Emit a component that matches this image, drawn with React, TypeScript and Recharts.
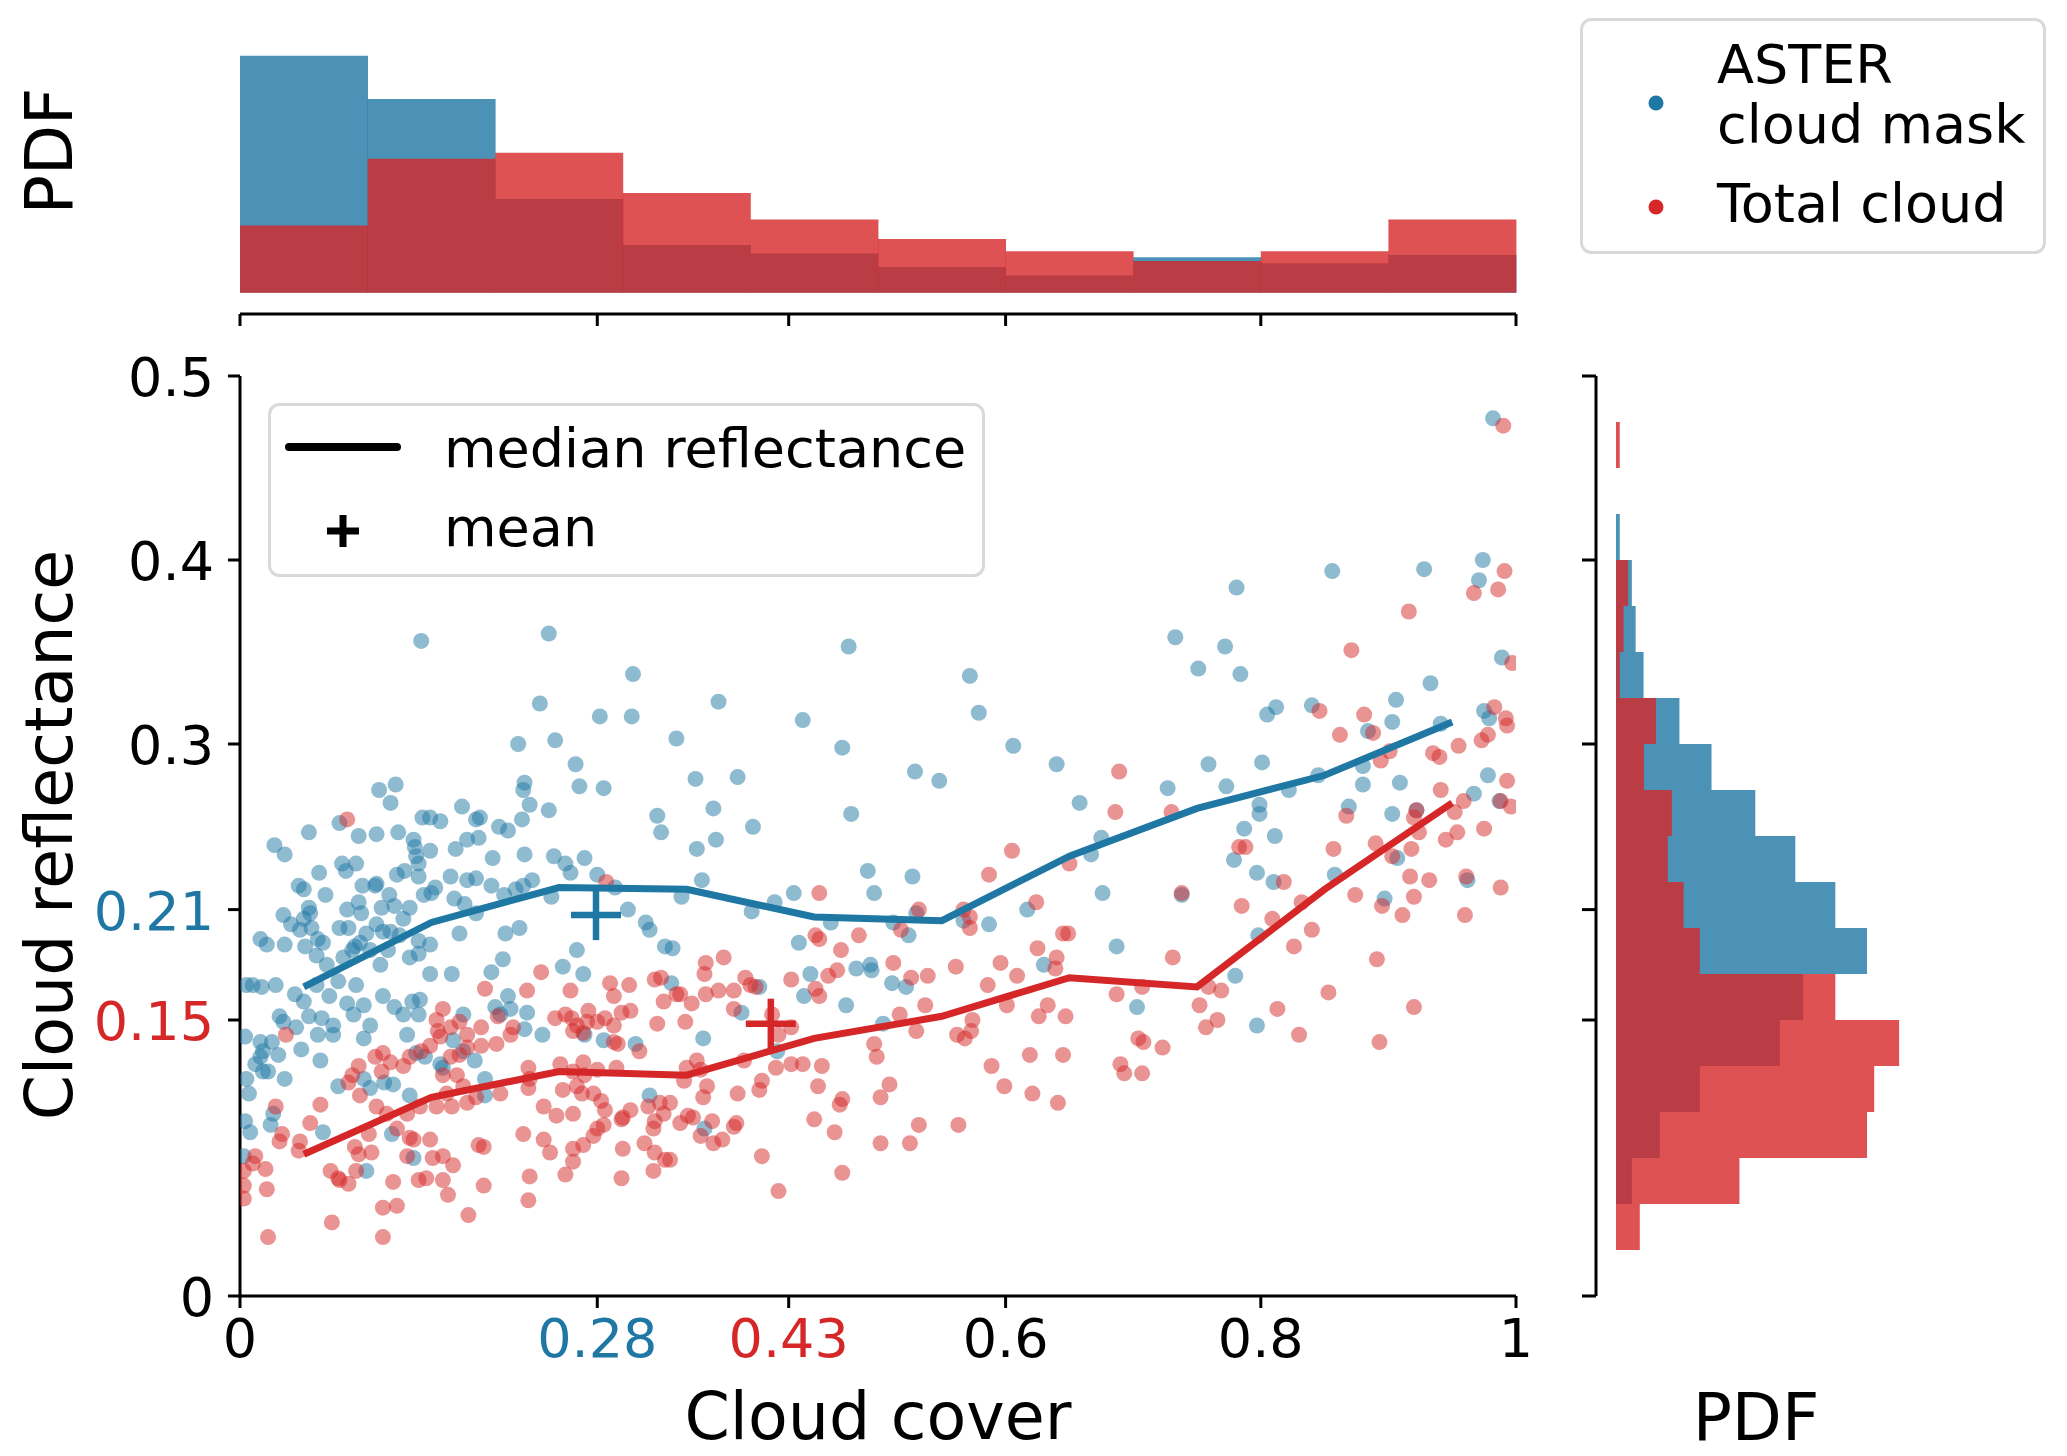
import React from 'react';
import { Bar, BarChart, ComposedChart, Line, Scatter, XAxis, YAxis } from 'recharts';

const BLUE = '#1f77a4';
const RED = '#d62728';
const FONT = '"DejaVu Sans", sans-serif';

// axis ticks (the coloured ones mark the means)
const coverTicks = [0, 0.28, 0.43, 0.6, 0.8, 1];
const reflectanceTicks = [0, 0.15, 0.21, 0.3, 0.4, 0.5];
const tickColors: Record<string, string> = { '0.28': BLUE, '0.43': RED, '0.21': BLUE, '0.15': RED };

// median reflectance per cloud-cover bin
const medianCover = [0.05, 0.15, 0.25, 0.35, 0.45, 0.55, 0.65, 0.75, 0.85, 0.95];
const asterMedian = [0.168, 0.203, 0.222, 0.221, 0.206, 0.204, 0.239, 0.265, 0.283, 0.312];
const totalMedian = [0.077, 0.108, 0.122, 0.12, 0.14, 0.152, 0.173, 0.168, 0.221, 0.268];

// means [cover, reflectance]
const asterMean: [number, number] = [0.279, 0.207];
const totalMean: [number, number] = [0.416, 0.148];

// top histogram: PDF of cloud cover
const coverBins = ['0-0.1', '0.1-0.2', '0.2-0.3', '0.3-0.4', '0.4-0.5', '0.5-0.6', '0.6-0.7', '0.7-0.8', '0.8-0.9', '0.9-1'];
const asterCoverPdf = [3.13, 2.56, 1.24, 0.63, 0.52, 0.34, 0.23, 0.47, 0.39, 0.5];
const totalCoverPdf = [0.89, 1.77, 1.85, 1.32, 0.97, 0.71, 0.55, 0.42, 0.55, 0.97];

// right histogram: PDF of cloud reflectance
const reflBins = [
  '0-0.025', '0.025-0.05', '0.05-0.075', '0.075-0.1', '0.1-0.125',
  '0.125-0.15', '0.15-0.175', '0.175-0.2', '0.2-0.225', '0.225-0.25',
  '0.25-0.275', '0.275-0.3', '0.3-0.325', '0.325-0.35', '0.35-0.375',
  '0.375-0.4', '0.4-0.425', '0.425-0.45', '0.45-0.475', '0.475-0.5',
];
const asterReflPdf = [0, 0, 0.42, 1.16, 2.22, 4.34, 4.96, 6.65, 5.81, 4.75, 3.69, 2.53, 1.68, 0.73, 0.52, 0.42, 0.1, 0, 0, 0];
const totalReflPdf = [0, 0.63, 3.27, 6.65, 6.84, 7.5, 5.81, 2.22, 1.79, 1.37, 1.48, 0.74, 1.06, 0.1, 0.2, 0.32, 0, 0, 0.1, 0];

// scenes: [cloud cover, cloud reflectance]
const asterPoints: [number, number][] = [
  [0.142, 0.356], [0.242, 0.36], [0.477, 0.353], [0.308, 0.338], [0.572, 0.337],
  [0.235, 0.322], [0.282, 0.315], [0.307, 0.315], [0.218, 0.3], [0.247, 0.302], [0.263, 0.289], [0.266, 0.277], [0.285, 0.276], [0.327, 0.261], [0.33, 0.252],
  [0.109, 0.275], [0.122, 0.278], [0.118, 0.268], [0.174, 0.266], [0.078, 0.257], [0.143, 0.26], [0.149, 0.26], [0.157, 0.258], [0.185, 0.259], [0.188, 0.26],
  [0.054, 0.252], [0.093, 0.25], [0.107, 0.251], [0.124, 0.252], [0.027, 0.245], [0.035, 0.24], [0.136, 0.248], [0.137, 0.244], [0.149, 0.242], [0.138, 0.239],
  [0.14, 0.235], [0.169, 0.243], [0.178, 0.248], [0.187, 0.249], [0.203, 0.255], [0.21, 0.253], [0.223, 0.279], [0.222, 0.275], [0.227, 0.267], [0.221, 0.259],
  [0.242, 0.264], [0.198, 0.238], [0.223, 0.24], [0.246, 0.239], [0.255, 0.235], [0.259, 0.23], [0.27, 0.238], [0.28, 0.229], [0.294, 0.222], [0.304, 0.21],
  [0.318, 0.203], [0.321, 0.199], [0.333, 0.19],
  [0.08, 0.235], [0.091, 0.235], [0.083, 0.231], [0.062, 0.23], [0.046, 0.223], [0.05, 0.221], [0.067, 0.218], [0.096, 0.223], [0.106, 0.223], [0.107, 0.224],
  [0.123, 0.229], [0.129, 0.231], [0.14, 0.228], [0.165, 0.228], [0.178, 0.226], [0.185, 0.227], [0.197, 0.223], [0.117, 0.218], [0.121, 0.212], [0.111, 0.211],
  [0.133, 0.211], [0.144, 0.218], [0.15, 0.219], [0.153, 0.222], [0.168, 0.216], [0.176, 0.213], [0.207, 0.218], [0.216, 0.221], [0.222, 0.223], [0.229, 0.226],
  [0.244, 0.217], [0.034, 0.207], [0.04, 0.202], [0.047, 0.199], [0.05, 0.205], [0.054, 0.211], [0.055, 0.208], [0.056, 0.2], [0.061, 0.194], [0.065, 0.192],
  [0.084, 0.21], [0.093, 0.214], [0.095, 0.208], [0.078, 0.2], [0.085, 0.2], [0.099, 0.197], [0.107, 0.202], [0.112, 0.198], [0.118, 0.198], [0.125, 0.196],
  [0.128, 0.205], [0.14, 0.193], [0.149, 0.191], [0.172, 0.197], [0.185, 0.208], [0.208, 0.197], [0.219, 0.2], [0.016, 0.194], [0.021, 0.191], [0.035, 0.191],
  [0.051, 0.19], [0.06, 0.185], [0.068, 0.18], [0.077, 0.171], [0.081, 0.184], [0.088, 0.188], [0.09, 0.19], [0.094, 0.192], [0.102, 0.188], [0.11, 0.18],
  [0.116, 0.188], [0.133, 0.184], [0.14, 0.186], [0.149, 0.175], [0.166, 0.175], [0.197, 0.176], [0.206, 0.183], [0.264, 0.188], [0.269, 0.175], [0.253, 0.179],
  [0.005, 0.169], [0.01, 0.169], [0.017, 0.168], [0.028, 0.169], [0.043, 0.164], [0.05, 0.16], [0.06, 0.169], [0.07, 0.163], [0.091, 0.169], [0.084, 0.159],
  [0.089, 0.153], [0.097, 0.158], [0.112, 0.163], [0.121, 0.157], [0.128, 0.153], [0.135, 0.16], [0.141, 0.161], [0.14, 0.153], [0.175, 0.153], [0.2, 0.157],
  [0.21, 0.163], [0.204, 0.153], [0.212, 0.156], [0.225, 0.154], [0.237, 0.142], [0.27, 0.142], [0.285, 0.139], [0.31, 0.137],
  [0.004, 0.141], [0.016, 0.138], [0.018, 0.133], [0.025, 0.138], [0.031, 0.152], [0.034, 0.149], [0.044, 0.146], [0.048, 0.134], [0.054, 0.152], [0.061, 0.142],
  [0.064, 0.151], [0.073, 0.147], [0.073, 0.142], [0.102, 0.147], [0.097, 0.14], [0.131, 0.142], [0.138, 0.132], [0.145, 0.13], [0.157, 0.126], [0.159, 0.124],
  [0.167, 0.139], [0.175, 0.133], [0.184, 0.128], [0.223, 0.145], [0.016, 0.13], [0.012, 0.126], [0.018, 0.122], [0.03, 0.131], [0.022, 0.122], [0.005, 0.118],
  [0.007, 0.11], [0.035, 0.118], [0.063, 0.128], [0.077, 0.114], [0.097, 0.118], [0.102, 0.113], [0.113, 0.116], [0.12, 0.115], [0.133, 0.109], [0.192, 0.118],
  [0.192, 0.109], [0.321, 0.109], [0.026, 0.099], [0.024, 0.093], [0.004, 0.095], [0.008, 0.089], [0.065, 0.089], [0.119, 0.088], [0.136, 0.075], [0.099, 0.068],
  [0.003, 0.076],
  [0.375, 0.323], [0.441, 0.313], [0.342, 0.303], [0.472, 0.298], [0.357, 0.281], [0.39, 0.282], [0.529, 0.285], [0.548, 0.28], [0.579, 0.317], [0.606, 0.299],
  [0.64, 0.289], [0.658, 0.268], [0.667, 0.24], [0.371, 0.265], [0.373, 0.248], [0.402, 0.255], [0.358, 0.243], [0.479, 0.262], [0.362, 0.226], [0.346, 0.217],
  [0.401, 0.209], [0.419, 0.214], [0.434, 0.219], [0.463, 0.203], [0.492, 0.231], [0.497, 0.219], [0.527, 0.228], [0.53, 0.208], [0.512, 0.203], [0.524, 0.196],
  [0.567, 0.204], [0.587, 0.202], [0.617, 0.21], [0.438, 0.192], [0.339, 0.189], [0.447, 0.175], [0.442, 0.163], [0.407, 0.168], [0.483, 0.178], [0.494, 0.18],
  [0.495, 0.177], [0.511, 0.17], [0.522, 0.168], [0.63, 0.18], [0.338, 0.17], [0.393, 0.154], [0.363, 0.14], [0.475, 0.158], [0.504, 0.148], [0.421, 0.133],
  [0.364, 0.091],
  [0.982, 0.477], [0.974, 0.4], [0.971, 0.389], [0.856, 0.394], [0.928, 0.395], [0.781, 0.385], [0.733, 0.358], [0.772, 0.353], [0.751, 0.341], [0.784, 0.338],
  [0.805, 0.316], [0.812, 0.32], [0.84, 0.321], [0.906, 0.324], [0.933, 0.333], [0.989, 0.347], [0.975, 0.318], [0.979, 0.314], [0.941, 0.311], [0.903, 0.312],
  [0.884, 0.307], [0.845, 0.283], [0.88, 0.288], [0.88, 0.278], [0.909, 0.279], [0.978, 0.283], [0.967, 0.273], [0.987, 0.269], [0.759, 0.289], [0.801, 0.29],
  [0.727, 0.276], [0.773, 0.277], [0.799, 0.267], [0.799, 0.262], [0.822, 0.275], [0.869, 0.266], [0.903, 0.262], [0.922, 0.264], [0.787, 0.254], [0.811, 0.25],
  [0.779, 0.237], [0.797, 0.23], [0.81, 0.225], [0.858, 0.229], [0.907, 0.238], [0.897, 0.216], [0.962, 0.226], [0.738, 0.218], [0.798, 0.196], [0.78, 0.174],
  [0.703, 0.157], [0.797, 0.147], [0.675, 0.249], [0.676, 0.219], [0.687, 0.19],
];

const totalPoints: [number, number][] = [
  [0.084, 0.259], [0.036, 0.142], [0.287, 0.225], [0.236, 0.176], [0.192, 0.167], [0.225, 0.166], [0.259, 0.166], [0.29, 0.17], [0.293, 0.163], [0.305, 0.169],
  [0.325, 0.172], [0.33, 0.173], [0.332, 0.16], [0.327, 0.148], [0.159, 0.156], [0.154, 0.15], [0.155, 0.144], [0.165, 0.146], [0.172, 0.149], [0.178, 0.142],
  [0.189, 0.146], [0.202, 0.152], [0.201, 0.137], [0.214, 0.146], [0.212, 0.142], [0.189, 0.136], [0.247, 0.151], [0.255, 0.153], [0.26, 0.151], [0.264, 0.147],
  [0.269, 0.143], [0.273, 0.155], [0.28, 0.149], [0.286, 0.151], [0.293, 0.147], [0.299, 0.154], [0.306, 0.155], [0.293, 0.138], [0.296, 0.137], [0.313, 0.133],
  [0.261, 0.144], [0.272, 0.149], [0.106, 0.13], [0.112, 0.132], [0.118, 0.127], [0.111, 0.122], [0.128, 0.125], [0.133, 0.13], [0.142, 0.133], [0.149, 0.136],
  [0.157, 0.141], [0.165, 0.13], [0.172, 0.131], [0.178, 0.135], [0.159, 0.12], [0.17, 0.12], [0.175, 0.114], [0.162, 0.11], [0.154, 0.103], [0.166, 0.103],
  [0.178, 0.105], [0.185, 0.108], [0.204, 0.11], [0.227, 0.118], [0.251, 0.126], [0.261, 0.122], [0.269, 0.127], [0.27, 0.12], [0.28, 0.123], [0.295, 0.124],
  [0.264, 0.114], [0.253, 0.112], [0.268, 0.11], [0.277, 0.11], [0.283, 0.106], [0.286, 0.101], [0.285, 0.093], [0.28, 0.091], [0.3, 0.097], [0.306, 0.101],
  [0.32, 0.103], [0.329, 0.105], [0.332, 0.099], [0.325, 0.095], [0.324, 0.091], [0.299, 0.096], [0.093, 0.125], [0.088, 0.12], [0.085, 0.116], [0.094, 0.109],
  [0.063, 0.104], [0.055, 0.094], [0.028, 0.103], [0.033, 0.088], [0.031, 0.084], [0.047, 0.084], [0.046, 0.079], [0.107, 0.103], [0.115, 0.099], [0.141, 0.103],
  [0.131, 0.099], [0.123, 0.091], [0.133, 0.086], [0.136, 0.085], [0.149, 0.085], [0.101, 0.088], [0.093, 0.077], [0.09, 0.081], [0.103, 0.078], [0.131, 0.076],
  [0.151, 0.075], [0.159, 0.076], [0.167, 0.071], [0.187, 0.082], [0.191, 0.081], [0.191, 0.06], [0.159, 0.063], [0.14, 0.063], [0.146, 0.064], [0.12, 0.062],
  [0.123, 0.049], [0.078, 0.063], [0.071, 0.068], [0.077, 0.064], [0.085, 0.061], [0.091, 0.068], [0.112, 0.048], [0.112, 0.032], [0.072, 0.04], [0.021, 0.058],
  [0.02, 0.069], [0.012, 0.076], [0.01, 0.072], [0.003, 0.068], [0.003, 0.053], [0.003, 0.06], [0.022, 0.032], [0.179, 0.044], [0.163, 0.055], [0.227, 0.065],
  [0.226, 0.052], [0.222, 0.088], [0.238, 0.103], [0.248, 0.098], [0.261, 0.099], [0.238, 0.085], [0.243, 0.078], [0.261, 0.08], [0.261, 0.073], [0.269, 0.082],
  [0.277, 0.087], [0.3, 0.08], [0.299, 0.064], [0.317, 0.083], [0.325, 0.078], [0.324, 0.068], [0.333, 0.074], [0.255, 0.066], [0.226, 0.124], [0.226, 0.113],
  [0.454, 0.219], [0.451, 0.196], [0.454, 0.194], [0.485, 0.196], [0.471, 0.188], [0.461, 0.174], [0.468, 0.177], [0.432, 0.172], [0.396, 0.173], [0.4, 0.169],
  [0.404, 0.168], [0.451, 0.167], [0.454, 0.163], [0.365, 0.181], [0.379, 0.184], [0.364, 0.175], [0.365, 0.164], [0.375, 0.166], [0.387, 0.166], [0.387, 0.156],
  [0.342, 0.164], [0.345, 0.164], [0.354, 0.159], [0.349, 0.149], [0.417, 0.153], [0.432, 0.146], [0.422, 0.142], [0.358, 0.128], [0.35, 0.124], [0.348, 0.117],
  [0.361, 0.123], [0.366, 0.114], [0.363, 0.108], [0.337, 0.105], [0.395, 0.128], [0.409, 0.117], [0.407, 0.112], [0.39, 0.11], [0.42, 0.124], [0.432, 0.126],
  [0.441, 0.126], [0.456, 0.125], [0.453, 0.114], [0.472, 0.107], [0.47, 0.104], [0.45, 0.096], [0.466, 0.089], [0.472, 0.067], [0.422, 0.057], [0.409, 0.076],
  [0.351, 0.098], [0.345, 0.094], [0.355, 0.097], [0.37, 0.095], [0.361, 0.087], [0.371, 0.083], [0.378, 0.085], [0.387, 0.092], [0.389, 0.094], [0.337, 0.074],
  [0.532, 0.21], [0.518, 0.199], [0.512, 0.181], [0.526, 0.173], [0.539, 0.174], [0.537, 0.158], [0.517, 0.153], [0.53, 0.144], [0.497, 0.137], [0.499, 0.13],
  [0.509, 0.115], [0.502, 0.108], [0.532, 0.093], [0.525, 0.083], [0.502, 0.083], [0.563, 0.093], [0.561, 0.179], [0.567, 0.21], [0.572, 0.206], [0.572, 0.2],
  [0.574, 0.15], [0.573, 0.144], [0.562, 0.142], [0.568, 0.14], [0.587, 0.229], [0.605, 0.242], [0.586, 0.169], [0.596, 0.181], [0.609, 0.174], [0.601, 0.158],
  [0.625, 0.189], [0.64, 0.184], [0.639, 0.178], [0.624, 0.214], [0.645, 0.197], [0.649, 0.197], [0.65, 0.235], [0.633, 0.158], [0.626, 0.152], [0.647, 0.152],
  [0.589, 0.125], [0.619, 0.131], [0.645, 0.131], [0.599, 0.114], [0.621, 0.11], [0.641, 0.105], [0.69, 0.126],
  [0.99, 0.473], [0.991, 0.394], [0.986, 0.384], [0.967, 0.382], [0.916, 0.372], [0.871, 0.351], [0.997, 0.344], [0.983, 0.32], [0.992, 0.314], [0.993, 0.31],
  [0.978, 0.305], [0.973, 0.302], [0.846, 0.318], [0.881, 0.316], [0.888, 0.306], [0.862, 0.305], [0.901, 0.296], [0.894, 0.291], [0.935, 0.295], [0.94, 0.293],
  [0.955, 0.299], [0.993, 0.28], [0.941, 0.275], [0.959, 0.269], [0.952, 0.263], [0.988, 0.269], [0.996, 0.266], [0.92, 0.26], [0.922, 0.264], [0.924, 0.252],
  [0.945, 0.248], [0.954, 0.252], [0.975, 0.254], [0.89, 0.246], [0.903, 0.239], [0.918, 0.243], [0.857, 0.243], [0.867, 0.261], [0.73, 0.263], [0.783, 0.244],
  [0.788, 0.244], [0.738, 0.219], [0.818, 0.225], [0.917, 0.228], [0.932, 0.226], [0.961, 0.228], [0.874, 0.218], [0.832, 0.214], [0.895, 0.212], [0.911, 0.207],
  [0.92, 0.217], [0.988, 0.222], [0.96, 0.207], [0.785, 0.212], [0.809, 0.205], [0.84, 0.199], [0.826, 0.19], [0.731, 0.184], [0.891, 0.183], [0.707, 0.168],
  [0.759, 0.168], [0.769, 0.166], [0.752, 0.158], [0.766, 0.15], [0.757, 0.146], [0.813, 0.156], [0.853, 0.165], [0.92, 0.157], [0.704, 0.14], [0.708, 0.138],
  [0.723, 0.135], [0.83, 0.142], [0.893, 0.138], [0.693, 0.121], [0.707, 0.121], [0.689, 0.285], [0.686, 0.263], [0.687, 0.164],
];

const toXY = (pts: [number, number][]) => pts.map(([x, y]) => ({ x, y }));
const asterData = toXY(asterPoints);
const totalData = toXY(totalPoints);
const asterMedianData = medianCover.map((x, i) => ({ x, y: asterMedian[i] }));
const totalMedianData = medianCover.map((x, i) => ({ x, y: totalMedian[i] }));
const coverTable = coverBins.map((bin, i) => ({ bin, aster: asterCoverPdf[i], total: totalCoverPdf[i] }));
const reflTable = reflBins.map((bin, i) => ({ bin, aster: asterReflPdf[i], total: totalReflPdf[i] }));

const axisStroke = { stroke: '#000', strokeWidth: 3 };

const dot = (color: string) => (p: any) => (
  <circle cx={p.cx} cy={p.cy} r={8} fill={color} fillOpacity={0.5} />
);

const cross = (color: string) => (p: any) => (
  <g stroke={color} strokeWidth={6.5}>
    <line x1={p.cx - 25} x2={p.cx + 25} y1={p.cy} y2={p.cy} />
    <line x1={p.cx} x2={p.cx} y1={p.cy - 25} y2={p.cy + 25} />
  </g>
);

const CoverTick = (p: any) => {
  const label = String(p.payload.value);
  return (
    <text x={p.x} y={p.y} dy={43} textAnchor="middle" fontSize={54} fontFamily={FONT} fill={tickColors[label] ?? '#000'}>
      {label}
    </text>
  );
};

const ReflTick = (p: any) => {
  const label = String(p.payload.value);
  return (
    <text x={p.x} y={p.y} dy={20} textAnchor="end" fontSize={54} fontFamily={FONT} fill={tickColors[label] ?? '#000'}>
      {label}
    </text>
  );
};

// offset spines of the marginal histograms (seaborn-style despine with offset)
const TopSpineTick = (p: any) => <line x1={p.x} x2={p.x} y1={p.y} y2={p.y + 12} stroke="#000" strokeWidth={3} />;
const SideSpineTick = (p: any) => <line x1={p.x - 14} x2={p.x} y1={p.y} y2={p.y} stroke="#000" strokeWidth={3} />;
const topSpine = (p: any) => {
  const v = p.viewBox;
  return <line x1={v.x} x2={v.x + v.width} y1={v.y} y2={v.y} stroke="#000" strokeWidth={3} />;
};
const sideSpine = (p: any) => {
  const v = p.viewBox;
  return <line x1={v.x + v.width} x2={v.x + v.width} y1={v.y} y2={v.y + v.height} stroke="#000" strokeWidth={3} />;
};

function TopHistogram() {
  return (
    <div style={{ position: 'absolute', left: 0, top: 0 }}>
      <BarChart width={1600} height={330} data={coverTable} margin={{ top: 43, right: 84, bottom: 16, left: 240 }} barCategoryGap={0} barGap={0}>
        <XAxis xAxisId="a" dataKey="bin" hide />
        <XAxis xAxisId="b" dataKey="bin" hide />
        <YAxis type="number" domain={[-0.28, 3.3]} allowDataOverflow hide />
        <Bar xAxisId="a" dataKey="aster" fill={BLUE} fillOpacity={0.8} isAnimationActive={false} />
        <Bar xAxisId="b" dataKey="total" fill={RED} fillOpacity={0.8} isAnimationActive={false} />
      </BarChart>
    </div>
  );
}

function RightHistogram() {
  return (
    <div style={{ position: 'absolute', left: 1540, top: 0 }}>
      <BarChart layout="vertical" width={460} height={1456} data={reflTable} margin={{ top: 376, right: 82, bottom: 160, left: 56 }} barCategoryGap={0} barGap={0}>
        <YAxis yAxisId="a" type="category" dataKey="bin" reversed hide />
        <YAxis yAxisId="b" type="category" dataKey="bin" reversed hide />
        <XAxis type="number" domain={[-0.53, 8]} allowDataOverflow hide />
        <Bar yAxisId="a" dataKey="aster" fill={BLUE} fillOpacity={0.8} isAnimationActive={false} />
        <Bar yAxisId="b" dataKey="total" fill={RED} fillOpacity={0.8} isAnimationActive={false} />
      </BarChart>
    </div>
  );
}

// the scatter panel also carries the offset spines of both marginal histograms
function MainScatter() {
  return (
    <div style={{ position: 'absolute', left: 0, top: 0 }}>
      <ComposedChart width={1600} height={1456} margin={{ top: 314, right: 4, bottom: 60, left: 0 }}>
        <XAxis type="number" dataKey="x" domain={[0, 1]} allowDataOverflow ticks={coverTicks} interval={0} height={100} tickSize={12} tickMargin={6} axisLine={axisStroke} tickLine={axisStroke} tick={CoverTick} />
        <XAxis xAxisId="top" orientation="top" type="number" dataKey="x" domain={[0, 1]} allowDataOverflow ticks={coverTicks} interval={0} height={62} tickSize={0} tickMargin={62} axisLine={false} tickLine={false} tick={TopSpineTick} label={topSpine} />
        <YAxis type="number" dataKey="y" domain={[0, 0.5]} allowDataOverflow ticks={reflectanceTicks} interval={0} width={240} tickSize={12} tickMargin={14} axisLine={axisStroke} tickLine={axisStroke} tick={ReflTick} />
        <YAxis yAxisId="side" orientation="right" type="number" dataKey="y" domain={[0, 0.5]} allowDataOverflow ticks={reflectanceTicks} interval={0} width={80} tickSize={0} tickMargin={80} axisLine={false} tickLine={false} tick={SideSpineTick} label={sideSpine} />
        <Scatter data={asterData} fill={BLUE} shape={dot(BLUE)} isAnimationActive={false} />
        <Scatter data={totalData} fill={RED} shape={dot(RED)} isAnimationActive={false} />
        <Line yAxisId="side" data={asterMedianData} dataKey="y" stroke={BLUE} strokeWidth={7} dot={false} isAnimationActive={false} zIndex={700} />
        <Line yAxisId="side" data={totalMedianData} dataKey="y" stroke={RED} strokeWidth={7} dot={false} isAnimationActive={false} zIndex={700} />
        <Scatter xAxisId="top" data={[{ x: asterMean[0], y: asterMean[1] }]} fill={BLUE} shape={cross(BLUE)} isAnimationActive={false} zIndex={800} />
        <Scatter xAxisId="top" data={[{ x: totalMean[0], y: totalMean[1] }]} fill={RED} shape={cross(RED)} isAnimationActive={false} zIndex={800} />
      </ComposedChart>
    </div>
  );
}

function Annotations() {
  return (
    <svg width={2067} height={1456} style={{ position: 'absolute', left: 0, top: 0, pointerEvents: 'none' }} fontFamily={FONT}>
      <text transform="translate(72,151) rotate(-90)" textAnchor="middle" fontSize={65}>PDF</text>
      <text transform="translate(72,835) rotate(-90)" textAnchor="middle" fontSize={65}>Cloud reflectance</text>
      <text x={878} y={1439} textAnchor="middle" fontSize={65}>Cloud cover</text>
      <text x={1756} y={1440} textAnchor="middle" fontSize={65}>PDF</text>

      {/* statistic legend */}
      <rect x={269.5} y={404.5} width={714} height={171} rx={10} fill="#fff" fillOpacity={0.8} stroke="#d9d9d9" strokeWidth={3} />
      <line x1={289} x2={397} y1={447} y2={447} stroke="#000" strokeWidth={8} strokeLinecap="round" />
      <text x={444} y={467} fontSize={54}>median reflectance</text>
      <g stroke="#000" strokeWidth={7}>
        <line x1={327} x2={359} y1={531} y2={531} />
        <line x1={343} x2={343} y1={515} y2={547} />
      </g>
      <text x={444} y={546} fontSize={54}>mean</text>

      {/* series legend */}
      <rect x={1581.5} y={19.5} width={463} height={233} rx={10} fill="#fff" stroke="#d9d9d9" strokeWidth={3} />
      <circle cx={1656} cy={103} r={7.5} fill={BLUE} />
      <text x={1717} y={83} fontSize={54}>ASTER</text>
      <text x={1717} y={143} fontSize={54}>cloud mask</text>
      <circle cx={1656} cy={207} r={7.5} fill={RED} />
      <text x={1717} y={222} fontSize={54}>Total cloud</text>
    </svg>
  );
}

export default function App() {
  return (
    <div style={{ position: 'absolute', left: 0, top: 0, width: 2067, height: 1456, background: '#fff', fontFamily: FONT, overflow: 'hidden' }}>
      <TopHistogram />
      <MainScatter />
      <RightHistogram />
      <Annotations />
    </div>
  );
}
